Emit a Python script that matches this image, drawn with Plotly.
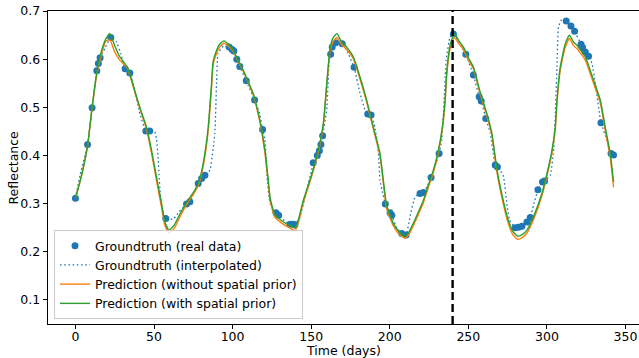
import plotly.graph_objects as go

# ---------------- data ----------------
OBS_DAYS = [0, 7.7, 10.6, 13.6, 14.6, 15.7, 22.5, 31.6, 34.6, 44.8,
            47.3, 57.5, 70.7, 72.8, 78.1, 80.3, 82.4, 97.8, 99.7, 100.8,
            102.7, 104.6, 108.7, 114, 119.1, 127.6, 129.3, 136.5, 138.6, 139.7,
            151.3, 153.9, 155.2, 156.2, 157.3, 162.4, 163.4, 165.6, 169.8, 177.3,
            186, 188.1, 197.2, 200.2, 201.3, 207.6, 210.4, 219.3, 221.4, 226.3,
            231.4, 240.5, 248.4, 253.2, 256.9, 258.2, 261.1, 267.1, 268.5, 279.8,
            281.9, 284.1, 287.3, 289.4, 294.3, 297.2, 298.5, 312.3, 315.3, 317.6,
            321.7, 322.7, 324.4, 326.5, 334.4, 340.8, 342.4]
OBS_VALUES = [0.311, 0.423, 0.499, 0.576, 0.591, 0.603, 0.645, 0.580, 0.571, 0.451,
              0.451, 0.269, 0.299, 0.304, 0.342, 0.352, 0.359, 0.625, 0.620, 0.617,
              0.600, 0.585, 0.555, 0.515, 0.454, 0.281, 0.276, 0.257, 0.257, 0.256,
              0.385, 0.400, 0.410, 0.423, 0.441, 0.610, 0.625, 0.634, 0.632, 0.583,
              0.486, 0.484, 0.299, 0.281, 0.276, 0.238, 0.235, 0.321, 0.323, 0.354,
              0.404, 0.652, 0.610, 0.567, 0.522, 0.513, 0.477, 0.380, 0.376, 0.250,
              0.251, 0.253, 0.262, 0.271, 0.329, 0.345, 0.347, 0.679, 0.669, 0.658,
              0.631, 0.624, 0.615, 0.606, 0.468, 0.404, 0.401]

INTERP_DAYS = [0, 3, 7.7, 10.6, 13.6, 14.6, 15.7, 18.7, 22.5, 26.1,
               29, 31.6, 34.6, 37.8, 41, 44.8, 47.3, 50.5, 51.6, 52.6,
               53.2, 54, 55, 57.5, 62.2, 66, 70.7, 72.8, 78.1, 80.3,
               82.4, 85.5, 88.7, 89.8, 90.8, 94, 97.8, 99.7, 100.8, 102.7,
               104.6, 108.7, 114, 117, 119.1, 120.6, 122, 123.9, 127.6, 129.3,
               132.9, 136.5, 138.6, 139.7, 143, 147.1, 150.3, 151.3, 153.9, 155.2,
               156.2, 157.3, 159.9, 161.5, 162.4, 163.4, 165.6, 169.8, 172.6, 177.3,
               181.1, 184.3, 186, 188.1, 190.6, 192.8, 193.8, 194.9, 197.2, 200.2,
               201.3, 204.5, 207.6, 210.4, 212.9, 216.1, 219.3, 221.4, 223.6, 226.3,
               231.4, 233.1, 234.6, 235.9, 238.4, 240.5, 244, 248.4, 253.2, 256.9,
               258.2, 261.1, 264, 267.1, 268.5, 270.3, 272.4, 274.5, 276.2, 279.8,
               281.9, 284.1, 287.3, 289.4, 291.5, 294.3, 297.2, 298.5, 302.1, 304.2,
               305.3, 306.4, 307.4, 309.6, 312.3, 315.3, 317.6, 321.7, 322.7, 324.4,
               326.5, 328.7, 330.8, 334.4, 338.2, 340.8, 342.4]
INTERP_VALUES = [0.311, 0.36, 0.423, 0.499, 0.576, 0.591, 0.603, 0.622, 0.645, 0.636,
                 0.61, 0.580, 0.571, 0.536, 0.487, 0.451, 0.451, 0.449, 0.432, 0.397,
                 0.36, 0.32, 0.293, 0.269, 0.268, 0.283, 0.299, 0.304, 0.342, 0.352,
                 0.359, 0.369, 0.446, 0.549, 0.612, 0.627, 0.625, 0.620, 0.617, 0.600,
                 0.585, 0.555, 0.515, 0.49, 0.454, 0.432, 0.349, 0.30, 0.281, 0.276,
                 0.265, 0.257, 0.257, 0.256, 0.273, 0.328, 0.369, 0.385, 0.400, 0.410,
                 0.423, 0.441, 0.494, 0.598, 0.610, 0.625, 0.634, 0.632, 0.618, 0.583,
                 0.529, 0.494, 0.486, 0.484, 0.459, 0.404, 0.349, 0.33, 0.299, 0.281,
                 0.276, 0.249, 0.238, 0.235, 0.273, 0.314, 0.321, 0.323, 0.335, 0.354,
                 0.404, 0.432, 0.515, 0.598, 0.646, 0.652, 0.635, 0.610, 0.567, 0.522,
                 0.513, 0.477, 0.446, 0.380, 0.376, 0.369, 0.356, 0.300, 0.266, 0.250,
                 0.251, 0.253, 0.262, 0.271, 0.297, 0.329, 0.345, 0.347, 0.359, 0.408,
                 0.480, 0.584, 0.667, 0.683, 0.679, 0.669, 0.658, 0.631, 0.624, 0.615,
                 0.606, 0.591, 0.549, 0.468, 0.432, 0.404, 0.401]

PRED_DAYS = [0, 4, 7.7, 10.6, 13.6, 16, 19.5, 21.9, 25, 28.2,
             32.9, 35.5, 38.9, 42, 45.2, 48.4, 51.6, 54.8, 56.9, 59.5,
             63, 66.4, 70.7, 74, 77, 79.2, 82.4, 84.5, 86.6, 87.6,
             89.8, 92, 94.6, 97, 100.4, 103.5, 106.8, 110, 113.1, 115.5,
             117.4, 120.6, 122.7, 123.9, 126.9, 131, 136.5, 139.8, 142, 145,
             149.2, 153.5, 157.7, 159.9, 162, 164, 166.4, 169, 172.6, 176.8,
             181.1, 185.3, 189.6, 193.8, 195.9, 198.1, 202.3, 205.5, 209.7, 212,
             215, 218, 221.4, 224.5, 227.8, 231, 233.5, 235.2, 236.3, 238.6,
             241.1, 244, 246.9, 250, 253.2, 257.5, 261.8, 265, 267.1, 268.8,
             272, 275.2, 278.4, 281.5, 284.5, 287.3, 291.5, 296.8, 301, 303.2,
             305.3, 306.4, 308.5, 311.7, 314.4, 317, 319.1, 324.4, 329.7, 334,
             337.1, 340.3, 342.4]
PRED_NO_PRIOR = [0.311, 0.36, 0.42, 0.498, 0.568, 0.603, 0.638, 0.640, 0.615, 0.598,
                 0.582, 0.557, 0.519, 0.487, 0.455, 0.405, 0.348, 0.292, 0.255, 0.239,
                 0.249, 0.272, 0.298, 0.314, 0.330, 0.347, 0.398, 0.452, 0.54, 0.588,
                 0.612, 0.626, 0.633, 0.628, 0.616, 0.596, 0.575, 0.551, 0.526, 0.497,
                 0.469, 0.405, 0.343, 0.306, 0.272, 0.26, 0.249, 0.244, 0.262, 0.302,
                 0.345, 0.393, 0.461, 0.543, 0.615, 0.637, 0.645, 0.632, 0.620, 0.601,
                 0.558, 0.511, 0.454, 0.398, 0.343, 0.289, 0.254, 0.238, 0.228, 0.235,
                 0.254, 0.276, 0.302, 0.333, 0.365, 0.406, 0.455, 0.509, 0.568, 0.625,
                 0.645, 0.632, 0.620, 0.598, 0.580, 0.528, 0.482, 0.441, 0.391, 0.354,
                 0.303, 0.261, 0.235, 0.226, 0.23, 0.239, 0.267, 0.316, 0.371, 0.405,
                 0.453, 0.508, 0.577, 0.625, 0.643, 0.628, 0.622, 0.598, 0.550, 0.509,
                 0.452, 0.396, 0.334]
PRED_WITH_PRIOR = [0.311, 0.36, 0.42, 0.50, 0.572, 0.61, 0.643, 0.653, 0.628, 0.605,
                   0.584, 0.56, 0.522, 0.49, 0.459, 0.411, 0.355, 0.30, 0.262, 0.245,
                   0.256, 0.278, 0.302, 0.318, 0.334, 0.352, 0.405, 0.459, 0.549, 0.595,
                   0.618, 0.632, 0.638, 0.632, 0.618, 0.598, 0.577, 0.553, 0.529, 0.50,
                   0.473, 0.411, 0.349, 0.312, 0.277, 0.265, 0.254, 0.249, 0.268, 0.307,
                   0.349, 0.397, 0.466, 0.549, 0.622, 0.645, 0.653, 0.638, 0.625, 0.605,
                   0.563, 0.515, 0.459, 0.404, 0.349, 0.295, 0.259, 0.243, 0.232, 0.240,
                   0.259, 0.281, 0.307, 0.338, 0.370, 0.411, 0.46, 0.515, 0.575, 0.632,
                   0.653, 0.638, 0.625, 0.603, 0.584, 0.532, 0.487, 0.446, 0.397, 0.36,
                   0.31, 0.268, 0.242, 0.232, 0.236, 0.245, 0.273, 0.321, 0.376, 0.41,
                   0.459, 0.515, 0.584, 0.632, 0.650, 0.635, 0.629, 0.605, 0.556, 0.515,
                   0.459, 0.404, 0.345]

SPLIT_DAY = 240
X_TICKS = [0, 50, 100, 150, 200, 250, 300, 350]
Y_TICKS = [0.1, 0.2, 0.3, 0.4, 0.5, 0.6, 0.7]
X_TITLE = "Time (days)"
Y_TITLE = "Reflectance"

# ---------------- figure ----------------
BLUE, ORANGE, GREEN = "#1f77b4", "#ff7f0e", "#2ca02c"
FONT = "DejaVu Sans"
FS = 12.5
W, H = 639, 358
ML, MR, MT, MB = 48, 0, 11, 34
PW, PH = W - ML - MR, H - MT - MB

fig = go.Figure()
fig.add_trace(go.Scatter(x=OBS_DAYS, y=OBS_VALUES, mode="markers",
                         marker=dict(color=BLUE, size=7, line=dict(width=0)),
                         name="Groundtruth (real data)"))
fig.add_trace(go.Scatter(x=INTERP_DAYS, y=INTERP_VALUES, mode="lines",
                         line=dict(color=BLUE, width=1.3, dash="1.6px,2.6px",
                                   shape="spline", smoothing=0.4),
                         name="Groundtruth (interpolated)"))
fig.add_trace(go.Scatter(x=PRED_DAYS, y=PRED_NO_PRIOR, mode="lines",
                         line=dict(color=ORANGE, width=1.4, shape="spline", smoothing=0.5),
                         name="Prediction (without spatial prior)"))
fig.add_trace(go.Scatter(x=PRED_DAYS, y=PRED_WITH_PRIOR, mode="lines",
                         line=dict(color=GREEN, width=1.4, shape="spline", smoothing=0.5),
                         name="Prediction (with spatial prior)"))

fig.add_vline(x=SPLIT_DAY, line=dict(color="black", width=2.4, dash="8px,4px"))

# axis titles placed as annotations in pixel terms relative to the plot area
fig.add_annotation(text=X_TITLE, xref="paper", yref="paper", x=0.5, y=-(350 - (H - MB)) / PH,
                   showarrow=False, xanchor="center", yanchor="middle",
                   font=dict(family=FONT, size=FS, color="black"))
fig.add_annotation(text=Y_TITLE, xref="paper", yref="paper", x=(13 - ML) / PW, y=0.5,
                   showarrow=False, xanchor="center", yanchor="middle", textangle=-90,
                   font=dict(family=FONT, size=FS, color="black"))

fig.update_layout(
    width=W, height=H,
    margin=dict(l=ML, r=MR, t=MT, b=MB, autoexpand=False),
    paper_bgcolor="white", plot_bgcolor="white",
    font=dict(family=FONT, size=FS, color="black"),
    showlegend=True,
    legend=dict(x=(54 - ML) / PW, y=(H - MB - 319) / PH, xanchor="left", yanchor="bottom",
                bgcolor="rgba(255,255,255,0.8)", bordercolor="#cccccc", borderwidth=1,
                font=dict(family=FONT, size=FS, color="black"),
                tracegroupgap=0, itemwidth=30),
)
fig.update_xaxes(range=[-17.45, 358.6], tickvals=X_TICKS, ticktext=[str(t) for t in X_TICKS],
                 automargin=False, ticklabelstandoff=-3,
                 showgrid=False, zeroline=False, showline=True, linecolor="black", linewidth=1,
                 mirror=True, ticks="outside", ticklen=4.4, tickwidth=1, tickcolor="black",
                 tickfont=dict(size=FS))
fig.update_yaxes(range=[0.05, 0.7], tickvals=Y_TICKS, ticktext=[f"{t:.1f}" for t in Y_TICKS],
                 automargin=False,
                 showgrid=False, zeroline=False, showline=True, linecolor="black", linewidth=1,
                 ticks="outside", ticklen=4.4, tickwidth=1, tickcolor="black",
                 tickfont=dict(size=FS))

fig.write_html("out.html", config={"displayModeBar": False},
               post_script="document.body.style.margin='0px';document.body.style.padding='0px';")
